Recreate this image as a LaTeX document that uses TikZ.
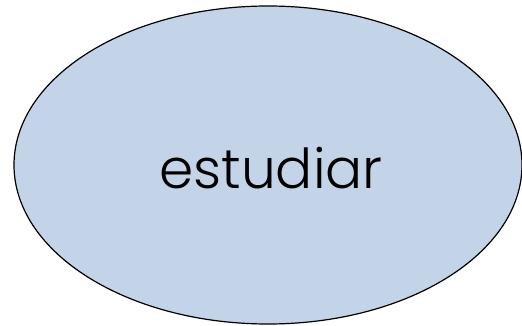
\documentclass[tikz,border=0pt]{standalone}
\usepackage{fontspec}
\setmainfont{Poppins Light}
\usetikzlibrary{shapes.geometric}
\definecolor{ellfill}{HTML}{C3D3E8}
\begin{document}
\begin{tikzpicture}[x=1pt,y=-1pt,
  ell/.style={ellipse, draw=black, line width=1.2pt, fill=ellfill, minimum width=508pt, minimum height=318pt, inner sep=0pt},
  lbl/.style={font=\fontsize{55}{62}\selectfont, text=black}]
\useasboundingbox (0,0) rectangle (522,326);
\node[ell] (e) at (268,165) {};
\node[lbl, anchor=base] (t) at (271,188) {estudiar};
\end{tikzpicture}
\end{document}
